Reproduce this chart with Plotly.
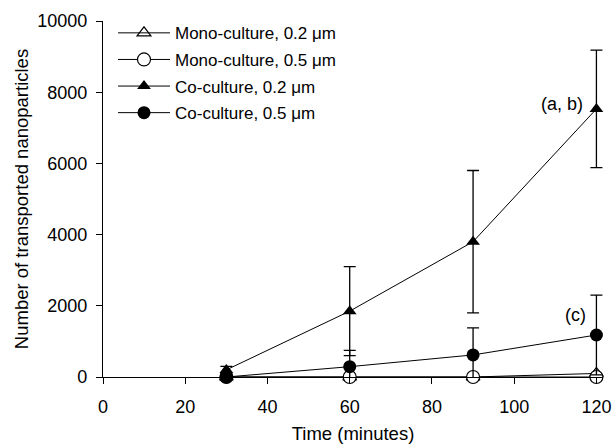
import plotly.graph_objects as go

time = [30, 60, 90, 120]
mono_02 = [0, 0, 0, 100]
mono_05 = [0, 0, 0, 0]
co_02 = [200, 1850, 3800, 7530]
co_02_err = [100, 1250, 2000, 1650]
co_05 = [0, 290, 620, 1180]
co_05_err = [0, 460, 760, 1120]

names = ["Mono-culture, 0.2 \u03bcm", "Mono-culture, 0.5 \u03bcm",
         "Co-culture, 0.2 \u03bcm", "Co-culture, 0.5 \u03bcm"]
x_ticks = [0, 20, 40, 60, 80, 100, 120]
y_ticks = [0, 2000, 4000, 6000, 8000, 10000]

fig = go.Figure()
line = dict(color="black", width=1)
err_style = dict(type="data", visible=True, color="black", thickness=1.3, width=6)

fig.add_trace(go.Scatter(x=time, y=mono_02, name=names[0], mode="lines+markers",
                         line=line, cliponaxis=False, legendgroup="a",
                         marker=dict(symbol="triangle-up-open", size=12, color="black",
                                     line=dict(width=1.2, color="black"))))
fig.add_trace(go.Scatter(x=time, y=mono_05, name=names[1], mode="lines+markers",
                         line=line, cliponaxis=False, legendgroup="b",
                         marker=dict(symbol="circle", size=13, color="white",
                                     line=dict(width=1.2, color="black"))))
fig.add_trace(go.Scatter(x=time, y=co_02, name=names[2], mode="lines+markers",
                         line=line, cliponaxis=False, legendgroup="c",
                         error_y=dict(array=co_02_err, **err_style),
                         marker=dict(symbol="triangle-up", size=12, color="black")))
fig.add_trace(go.Scatter(x=time, y=co_05, name=names[3], mode="lines+markers",
                         line=line, cliponaxis=False, legendgroup="d",
                         error_y=dict(array=co_05_err, **err_style),
                         marker=dict(symbol="circle", size=13, color="black")))

fig.add_annotation(x=120, y=7530, text="(a, b)", showarrow=False, xanchor="right",
                   yanchor="middle", xshift=-11, yshift=5, font=dict(size=18, color="black"))
fig.add_annotation(x=120, y=1740, text="(c)", showarrow=False, xanchor="right",
                   yanchor="middle", xshift=-8, font=dict(size=18, color="black"))

axis_common = dict(showline=True, linecolor="black", linewidth=1.2, ticks="outside",
                   ticklen=6, tickcolor="black", showgrid=False, zeroline=False,
                   automargin=False,
                   tickfont=dict(size=18, color="black"),
                   title_font=dict(size=18.5, color="black"))

fig.update_xaxes(range=[0, 121.6], tickvals=x_ticks,
                 ticktext=[str(v) for v in x_ticks], ticklabelstandoff=7,
                 title_text="Time (minutes)", title_standoff=12, **axis_common)
fig.update_yaxes(range=[0, 10000], tickvals=y_ticks,
                 ticktext=[str(v) for v in y_ticks], ticklabelstandoff=5,
                 title_text="Number of transported nanoparticles", title_standoff=3,
                 **axis_common)

fig.update_layout(
    width=614, height=444,
    margin=dict(l=103, r=11, t=21, b=67),
    plot_bgcolor="white", paper_bgcolor="white",
    font=dict(family="Liberation Sans, Arial, sans-serif", color="black"),
    legend=dict(x=0.02, y=1.016, xanchor="left", yanchor="top",
                font=dict(size=17, color="black"), bgcolor="rgba(0,0,0,0)",
                tracegroupgap=1.5, itemwidth=52),
    showlegend=True,
)

fig.write_html("out.html", config={"displayModeBar": False},
               post_script="document.body.style.margin='0';document.body.style.overflow='hidden';")
